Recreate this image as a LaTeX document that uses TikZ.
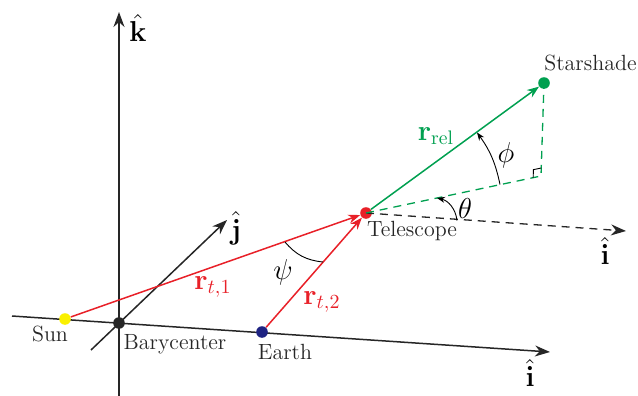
\documentclass[tikz,border=0pt]{standalone}
\usepackage{amsmath}
\usetikzlibrary{arrows.meta,calc}
\definecolor{cred}{RGB}{232,32,40}
\definecolor{cgreen}{RGB}{0,160,80}
\definecolor{cnavy}{RGB}{30,35,130}
\definecolor{cyel}{RGB}{250,240,0}
\begin{document}
\begin{tikzpicture}[x=0.5pt,y=-0.5pt,
  dot/.style={circle,inner sep=0pt,minimum size=5.8pt,draw=none},
  axis/.style={line width=0.75pt,black!85,-{Stealth[length=7.5pt,width=5.5pt]}},
  redarr/.style={line width=0.75pt,cred,-{Stealth[length=6pt,width=4.5pt]}},
  greenarr/.style={line width=0.75pt,cgreen,-{Stealth[length=6pt,width=4.5pt]}},
  gdash/.style={line width=0.65pt,cgreen,dash pattern=on 4pt off 3pt},
  kdash/.style={line width=0.65pt,black!85,dash pattern=on 4pt off 3pt},
  angarc/.style={line width=0.45pt,black},
  lbl/.style={font=\fontsize{11}{13}\selectfont,inner sep=0pt,text=black!85},
  mlbl/.style={font=\fontsize{14}{16}\selectfont,inner sep=0pt}]
\useasboundingbox (0,0) rectangle (638,396);
% axes
\coordinate (kb) at (119,396); \coordinate (kt) at (119,12);
\coordinate (il) at (12,316); \coordinate (ir) at (550,352);
\coordinate (jb) at (91,350); \coordinate (jt) at (227,220);
\draw[axis] (kb) -- (kt);
\draw[axis] (il) -- (ir);
\draw[axis] (jb) -- (jt);
\node[mlbl] (klab) at (138,28) {$\hat{\mathbf{k}}$};
\node[mlbl] (ilab) at (530,373) {$\hat{\mathbf{i}}$};
\node[mlbl] (jlab) at (236,228) {$\hat{\mathbf{j}}$};
% points
\node[dot,fill=cyel] (sun) at (65,319) {};
\node[dot,fill=black!85] (bary) at (119,323) {};
\node[dot,fill=cnavy] (earth) at (262,332) {};
\node[dot,fill=cred] (tel) at (366,213) {};
\node[dot,fill=cgreen] (ss) at (544,83) {};
\coordinate (foot) at (541,176);
\coordinate (i2) at (626,231);
% dashed lines
\draw[kdash,-{Stealth[length=7.5pt,width=5.5pt]}] (tel.center) -- (i2);
\node[mlbl] (i2lab) at (605,251) {$\hat{\mathbf{i}}$};
\draw[gdash] (tel.center) -- (foot) -- (ss.center);
\coordinate (ra) at ($(foot)!4pt!(tel)$);
\coordinate (rc) at ($(foot)!4pt!(ss)$);
\draw[line width=0.45pt,black] (ra) -- ($(ra)+(rc)-(foot)$) -- (rc);
% vectors
\draw[redarr] (sun) -- (tel);
\draw[redarr] (earth) -- (tel);
\draw[greenarr] (tel) -- (ss);
% angle arcs
\coordinate (psiA) at (285,242); \coordinate (psiB) at (323,262);
\draw[angarc] (psiA) to[bend right=22] (psiB);
\coordinate (phiA) at (500,184.5); \coordinate (phiB) at (477,132.5);
\draw[angarc,-{Stealth[length=4pt,width=3pt]}] (phiA) to[bend right=12] (phiB);
\coordinate (thA) at (457,220.5); \coordinate (thB) at (437,198);
\draw[angarc,-{Stealth[length=4pt,width=3pt]}] (thA) to[bend right=35] (thB);
% labels
\node[lbl] (sunlab) at (50,334) {Sun};
\node[lbl] (barylab) at (175,344) {Barycenter};
\node[lbl] (earthlab) at (285,352) {Earth};
\node[lbl] (tellab) at (412,231) {Telescope};
\node[lbl,anchor=east] (sslab) at (637,63) {Starshade};
\node[mlbl,text=cred] (r1) at (213,287) {$\mathbf{r}_{t,1}$};
\node[mlbl,text=cred] (r2) at (322,302) {$\mathbf{r}_{t,2}$};
\node[mlbl,text=cgreen] (rrel) at (436,136) {$\mathbf{r}_{\text{rel}}$};
\node[mlbl] (psil) at (283,272) {$\psi$};
\node[mlbl] (phil) at (506,155) {$\phi$};
\node[mlbl] (thl) at (465,208) {$\theta$};
\end{tikzpicture}
\end{document}
